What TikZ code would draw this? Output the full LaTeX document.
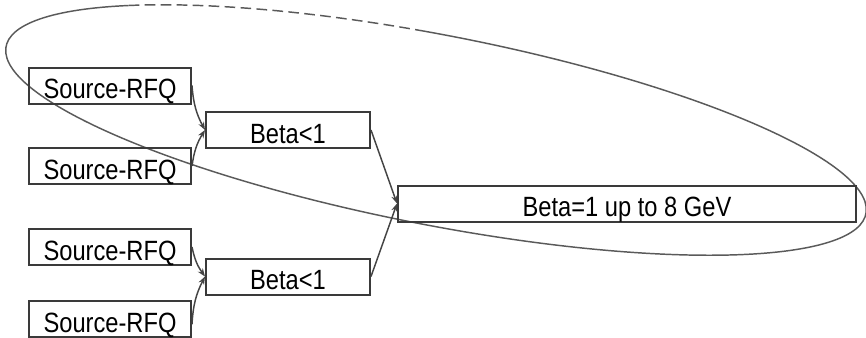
\documentclass[tikz,border=0pt]{standalone}
\usepackage{fontspec}
\newfontfamily\boxfont[FakeStretch=0.85]{Liberation Sans}
\usetikzlibrary{arrows.meta}
\definecolor{boxgray}{HTML}{3A3A3A}
\definecolor{linegray}{HTML}{444444}
\definecolor{ringgray}{HTML}{5A5A5A}

\begin{document}
\begin{tikzpicture}[x=0.75pt,y=0.75pt,yscale=-1,xscale=1,
  blockbox/.style={draw=boxgray, line width=1.5pt, inner sep=0pt, minimum height=27pt,
    text height=22pt, text depth=2pt, font=\boxfont\fontsize{20.9}{24}\selectfont},
  feed/.style={draw=linegray, line width=1.1pt, -{Stealth[length=6pt,width=4.5pt]}},
  ring/.style={draw=ringgray, line width=1.1pt}]
\clip (0,0) rectangle (866,337);

%Shape: Ellipse (rotated)
\begin{scope}[shift={(436,130)}, rotate=11]
\draw[ring] (266:438 and 95) arc[start angle=266, end angle=582, x radius=438, y radius=95];
\draw[ring, dash pattern=on 8pt off 4pt] (222:438 and 95) arc[start angle=222, end angle=266, x radius=438, y radius=95];
\end{scope}

% Text Node
\node [blockbox, minimum width=121.5pt] (src1) at (110,85.5) {Source-RFQ};
% Text Node
\node [blockbox, minimum width=121.5pt] (src2) at (110,166) {Source-RFQ};
% Text Node
\node [blockbox, minimum width=121.5pt] (src3) at (110,247) {Source-RFQ};
% Text Node
\node [blockbox, minimum width=121.5pt] (src4) at (110,319) {Source-RFQ};
% Text Node
\node [blockbox, minimum width=123pt] (beta1) at (288,130) {Beta<1};
% Text Node
\node [blockbox, minimum width=123pt] (beta2) at (288,276.5) {Beta<1};
% Text Node
\node [blockbox, minimum width=343.5pt] (full) at (627,203.5) {Beta=1 up to 8 GeV};

%Straight Lines
\draw[feed] (src1.east) to[bend left=12] (beta1.west);
\draw[feed] (src2.east) to[bend right=12] (beta1.west);
\draw[feed] (src3.east) to[bend left=12] (beta2.west);
\draw[feed] ([yshift=4pt]src4.east) to[bend right=12] (beta2.west);
\draw[feed] (beta1.east) -- (full.west);
\draw[feed] (beta2.east) -- (full.west);

\end{tikzpicture}
\end{document}
